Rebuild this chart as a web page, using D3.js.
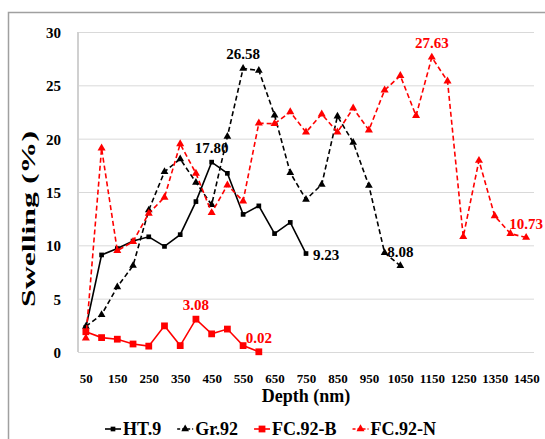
<!DOCTYPE html>
<html>
<head>
<meta charset="utf-8">
<script src="https://cdn.jsdelivr.net/npm/d3@7"></script>
<style>
  body { margin: 0; background: #ffffff; }
</style>
</head>
<body>
<div id="chart"></div>
<script>
///////////////////////////////////////////////
// Data ///////////////////////////////////////
///////////////////////////////////////////////

var depths = [50, 100, 150, 200, 250, 300, 350, 400, 450, 500, 550, 600, 650, 700, 750,
              800, 850, 900, 950, 1000, 1050, 1100, 1150, 1200, 1250, 1300, 1350, 1400, 1450];
var depthTicks = [50, 150, 250, 350, 450, 550, 650, 750, 850, 950, 1050, 1150, 1250, 1350, 1450];
var swellingTicks = [0, 5, 10, 15, 20, 25, 30];

var ht9   = [2.3, 9.1, 9.7, 10.4, 10.8, 9.9, 11.0, 14.1, 17.80, 16.75, 12.9, 13.7, 11.1, 12.15, 9.23];
var gr92  = [2.4, 3.5, 6.1, 8.1, 13.3, 16.9, 18.1, 15.9, 13.8, 20.2, 26.58, 26.4, 22.2, 16.8, 14.3,
             15.7, 22.1, 19.65, 15.6, 9.3, 8.08];
var fc92b = [1.9, 1.35, 1.2, 0.75, 0.55, 2.45, 0.6, 3.08, 1.7, 2.15, 0.6, 0.02];
var fc92n = [1.3, 19.1, 9.5, 10.35, 13.0, 14.5, 19.5, 16.75, 13.05, 15.65, 14.15, 21.45, 21.4, 22.5, 20.6,
             22.3, 20.6, 22.85, 20.8, 24.55, 25.9, 22.15, 27.63, 25.4, 10.8, 17.95, 12.75, 11.1, 10.73];

var seriesNames = ["HT.9", "Gr.92", "FC.92-B", "FC.92-N"];

// labelled points: series index, depth, placement
var pointLabels = [
  { s: 1, depth: 550, pos: "above" },
  { s: 0, depth: 450, pos: "above" },
  { s: 3, depth: 1150, pos: "above" },
  { s: 2, depth: 400, pos: "above" },
  { s: 2, depth: 600, pos: "above" },
  { s: 0, depth: 750, pos: "right" },
  { s: 1, depth: 1050, pos: "above" },
  { s: 3, depth: 1450, pos: "above" }
];

///////////////////////////////////////////////
// Graph parameters ///////////////////////////
///////////////////////////////////////////////

var W = 545, H = 439;
var margin = { top: 32, left: 78, right: 11, bottom: 87 };
var width = W - margin.left - margin.right;
var height = H - margin.top - margin.bottom;

var black = "#000000", red = "#ff0000";
var serif = "'Liberation Serif'";

var styles = [
  { color: black, dash: null,  marker: d3.symbolSquare,   size: 22 },
  { color: black, dash: "5,3", marker: d3.symbolTriangle, size: 26 },
  { color: red,   dash: null,  marker: d3.symbolSquare,   size: 46 },
  { color: red,   dash: "5,3", marker: d3.symbolTriangle, size: 28 }
];

var series = [ht9, gr92, fc92b, fc92n].map(function(vals, i) {
  return {
    name: seriesNames[i],
    style: styles[i],
    values: vals.map(function(v, j) { return { depth: depths[j], value: v }; })
  };
});

var svg = d3.select("#chart").append("svg")
    .attr("width", W)
    .attr("height", H);

// outer chart frame (runs off the picture on the right and bottom)
svg.append("rect")
    .attr("x", 8.5).attr("y", 12.5)
    .attr("width", W + 20).attr("height", H + 20)
    .attr("fill", "none")
    .attr("stroke", "#a0a0a0")
    .attr("stroke-width", 1.5);

var g = svg.append("g")
    .attr("transform", "translate(" + margin.left + "," + margin.top + ")");

// common text look: bold Times-like
function boldSerif(sel, size) {
  sel.style("font-family", serif)
     .style("font-weight", "bold")
     .style("font-size", size + "px");
}

///////////////////////////////////////////////
// Scales /////////////////////////////////////
///////////////////////////////////////////////

var x = d3.scalePoint()
    .domain(depths)
    .range([0, width])
    .padding(0.5);

var y = d3.scaleLinear()
    .domain([0, 30])
    .range([height, 0]);

///////////////////////////////////////////////
// Axes ///////////////////////////////////////
///////////////////////////////////////////////

var yAxis = d3.axisLeft(y)
  .tickValues(swellingTicks)
  .tickSize(-width)
  .tickPadding(17);

g.append("g")
  .attr("class", "axisY")
  .call(function(a) {
    a.call(yAxis);
    a.select(".domain").remove();
    a.selectAll(".tick line").attr("stroke", "#d9d9d9").attr("stroke-width", 1);
    a.selectAll(".tick text")
      .attr("dy", "0.36em")
      .style("fill", black)
      .call(boldSerif, 15);
  });

g.append("line")
  .attr("x1", 0).attr("x2", 0)
  .attr("y1", 0).attr("y2", height)
  .attr("stroke", "#d0d0d0")
  .attr("stroke-width", 2);

var xAxis = d3.axisBottom(x)
  .tickValues(depthTicks)
  .tickSize(0);

g.append("g")
  .attr("class", "axisX")
  .attr("transform", "translate(0," + height + ")")
  .call(function(a) {
    a.call(xAxis);
    a.select(".domain").remove();
    a.selectAll(".tick text")
      .attr("y", 31)
      .attr("dy", 0)
      .style("fill", black)
      .call(boldSerif, 13);
  });

// Axis titles
svg.append("text")
  .attr("x", margin.left + width / 2)
  .attr("y", 402)
  .attr("text-anchor", "middle")
  .call(boldSerif, 18)
  .text("Depth (nm)");

svg.append("text")
  .attr("transform", "translate(35,219) rotate(-90)")
  .attr("text-anchor", "middle")
  .attr("textLength", 176)
  .attr("lengthAdjust", "spacingAndGlyphs")
  .call(boldSerif, 19)
  .text("Swelling (%)");

///////////////////////////////////////////////
// Lines //////////////////////////////////////
///////////////////////////////////////////////

var line = d3.line()
    .x(function(d) { return x(d.depth); })
    .y(function(d) { return y(d.value); });

var seriesG = g.selectAll(".series")
    .data(series)
    .enter().append("g")
    .attr("class", "series");

seriesG.append("path")
    .attr("fill", "none")
    .attr("stroke", function(d) { return d.style.color; })
    .attr("stroke-width", 1.6)
    .attr("stroke-dasharray", function(d) { return d.style.dash; })
    .attr("d", function(d) { return line(d.values); });

seriesG.selectAll(".marker")
    .data(function(d) { return d.values.map(function(v) { return { v: v, st: d.style }; }); })
    .enter().append("path")
    .attr("class", "marker")
    .attr("transform", function(d) { return "translate(" + x(d.v.depth) + "," + y(d.v.value) + ")"; })
    .attr("d", function(d) { return d3.symbol(d.st.marker, d.st.size)(); })
    .attr("fill", function(d) { return d.st.color; });

///////////////////////////////////////////////
// Data labels ////////////////////////////////
///////////////////////////////////////////////

var fmt = d3.format(".2f");

function labelValue(d) {
  return series[d.s].values.find(function(p) { return p.depth === d.depth; }).value;
}

g.selectAll(".dataLabel")
    .data(pointLabels)
    .enter().append("text")
    .attr("class", "dataLabel")
    .attr("x", function(d) { return x(d.depth) + (d.pos === "right" ? 7 : 0); })
    .attr("y", function(d) { return y(labelValue(d)) + (d.pos === "right" ? 6.5 : -9); })
    .attr("text-anchor", function(d) { return d.pos === "right" ? "start" : "middle"; })
    .style("fill", function(d) { return series[d.s].style.color; })
    .call(boldSerif, 15)
    .text(function(d) { return fmt(labelValue(d)); });

///////////////////////////////////////////////
// Legend /////////////////////////////////////
///////////////////////////////////////////////

var legend = svg.append("g").attr("class", "legend");
var lx = 105, ly = 429;

series.forEach(function(s) {
  var item = legend.append("g").attr("transform", "translate(" + lx + "," + ly + ")");
  item.append("line")
    .attr("x1", 0).attr("x2", 16)
    .attr("stroke", s.style.color)
    .attr("stroke-width", 1.6)
    .attr("stroke-dasharray", s.style.dash ? "3,2" : null);
  item.append("path")
    .attr("transform", "translate(8,0)")
    .attr("d", d3.symbol(s.style.marker, s.style.size)())
    .attr("fill", s.style.color);
  var t = item.append("text")
    .attr("x", 18)
    .attr("y", 6)
    .style("fill", black)
    .call(boldSerif, 18)
    .text(s.name);
  lx += 18 + t.node().getComputedTextLength() + 16;
});
</script>
</body>
</html>
